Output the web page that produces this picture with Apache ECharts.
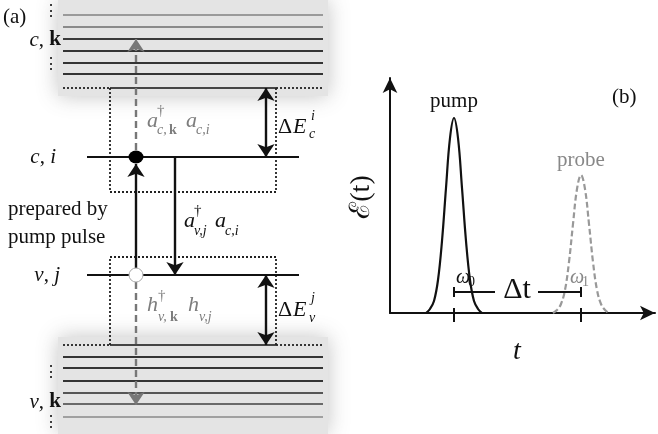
<!DOCTYPE html>
<html>
<head>
<meta charset="utf-8">
<script src="https://cdn.jsdelivr.net/npm/echarts@6/dist/echarts.min.js"></script>
<style>
  html, body { margin: 0; padding: 0; background: #fff; }
  #chart { width: 658px; height: 434px; }
</style>
</head>
<body>
<div id="chart"></div>
<script>
// (a) energy levels, y in drawing pixels
const upperLevels = [15, 27, 39, 51, 63, 74];
const lowerLevels = [357, 368, 381, 393, 404, 417];
const bandEdges = [88, 345];
const stateLevels = [157, 275]; // c,i  and  v,j

// (b) pulse envelopes
const pumpT = [36, 40, 44, 48, 52, 56, 60, 64, 68, 72, 76, 80, 84, 88, 92];
const pumpE = [0, 4, 12, 33, 72, 125, 175, 195, 175, 125, 72, 33, 12, 4, 0];
const probeT = [163, 167, 171, 175, 179, 183, 187, 191, 195, 199, 203, 207, 211, 215, 219];
const probeE = [0, 3, 9, 23, 51, 89, 124, 138, 124, 89, 51, 23, 9, 3, 0];
const pulseCenters = [64, 191];

const bandX = [63, 323];
const stateX = [87, 299];
const boxX = [110, 276];
const upX = 136, downX = 175, gapX = 266;

const chart = echarts.init(document.getElementById('chart'));

const serif = 'Liberation Serif';
const gray = '#7d7d7d';
// spec like 'italic bold 21'
function T(x, y, text, spec, fill, align, extra) {
    const parts = spec.split(' ');
    const size = +parts[parts.length - 1];
    return Object.assign({
        type: 'text', x: x, y: y, z: 100,
        style: {
            text: text, fontSize: size, fontFamily: serif,
            fontStyle: parts.indexOf('italic') >= 0 ? 'italic' : 'normal',
            fontWeight: parts.indexOf('bold') >= 0 ? 'bold' : 'normal',
            fill: fill || '#111',
            textAlign: align || 'left', align: align || 'left',
            textVerticalAlign: 'middle', verticalAlign: 'middle'
        }
    }, extra || {});
}
function seg(x1, y1, x2, y2) { return { coords: [[x1, y1], [x2, y2]] }; }
function lvl(y, color) { return Object.assign(seg(bandX[0], y, bandX[1], y), { lineStyle: { color: color } }); }

const upperColors = ['#9a9a9a', '#8a8a8a', '#3a3a3a', '#333', '#333', '#333'];
const lowerColors = ['#333', '#333', '#333', '#555', '#6a6a6a', '#a0a0a0'];

const stateLabel = (x, y, a, b) => ({
    type: 'text', x: x, y: y, z: 100,
    style: {
        text: '{i|' + a + '}{n|, }{' + (b === 'k' ? 'b' : 'i') + '|' + b + '}',
        align: 'right', textAlign: 'right', verticalAlign: 'middle', textVerticalAlign: 'middle',
        rich: {
            i: { fontFamily: serif, fontStyle: 'italic', fontSize: 21, fill: '#111' },
            n: { fontFamily: serif, fontSize: 21, fill: '#111' },
            b: { fontFamily: serif, fontWeight: 'bold', fontSize: 21, fill: '#111' }
        }
    }
});

const option = {
    animation: false,
    grid: [
        { left: 0, top: 0, width: 658, height: 434 },
        { left: 390, top: 78, width: 265, height: 235 }
    ],
    xAxis: [
        { gridIndex: 0, type: 'value', min: 0, max: 658, show: false },
        {
            gridIndex: 1, type: 'value', min: 0, max: 265,
            axisLine: { show: true, lineStyle: { color: '#111', width: 2 }, symbol: ['none', 'arrow'], symbolSize: [11, 15] },
            axisTick: { show: false }, axisLabel: { show: false }, splitLine: { show: false }
        }
    ],
    yAxis: [
        { gridIndex: 0, type: 'value', min: 0, max: 434, inverse: true, show: false },
        {
            gridIndex: 1, type: 'value', min: 0, max: 235,
            axisLine: { show: true, lineStyle: { color: '#111', width: 2 }, symbol: ['none', 'arrow'], symbolSize: [11, 15] },
            axisTick: { show: false }, axisLabel: { show: false }, splitLine: { show: false }
        }
    ],
    series: [
        // band shading
        {
            type: 'line', xAxisIndex: 0, yAxisIndex: 0, data: [], silent: true,
            markArea: {
                silent: true,
                itemStyle: { color: '#e4e4e4', shadowBlur: 20, shadowColor: 'rgba(190,190,190,0.9)' },
                data: [
                    [{ coord: [58, -10] }, { coord: [328, 96] }],
                    [{ coord: [58, 337] }, { coord: [328, 444] }]
                ]
            }
        },
        // band levels
        {
            type: 'lines', coordinateSystem: 'cartesian2d', xAxisIndex: 0, yAxisIndex: 0, z: 3,
            lineStyle: { width: 1.8, opacity: 1 },
            data: upperLevels.map((y, i) => lvl(y, upperColors[i]))
                .concat(lowerLevels.map((y, i) => lvl(y, lowerColors[i])))
                .concat(bandEdges.map(y => Object.assign(seg(boxX[0], y, boxX[1], y), { lineStyle: { color: '#444' } })))
        },
        // dotted band edges and boxes
        {
            type: 'lines', coordinateSystem: 'cartesian2d', xAxisIndex: 0, yAxisIndex: 0, z: 3, polyline: true,
            lineStyle: { color: '#222', width: 1.8, type: [2, 2], opacity: 1 },
            data: bandEdges.map(y => seg(bandX[0], y, boxX[0], y))
                .concat(bandEdges.map(y => seg(boxX[1], y, bandX[1], y)))
                .concat([
                    { coords: [[boxX[0], bandEdges[0]], [boxX[0], 192], [boxX[1], 192], [boxX[1], bandEdges[0]]] },
                    { coords: [[boxX[0], bandEdges[1]], [boxX[0], 257], [boxX[1], 257], [boxX[1], bandEdges[1]]] }
                ])
        },
        // discrete states
        {
            type: 'lines', coordinateSystem: 'cartesian2d', xAxisIndex: 0, yAxisIndex: 0, z: 4,
            lineStyle: { color: '#111', width: 2.2, opacity: 1 },
            data: stateLevels.map(y => seg(stateX[0], y, stateX[1], y))
        },
        // dashed gray transitions into the bands
        {
            type: 'lines', coordinateSystem: 'cartesian2d', xAxisIndex: 0, yAxisIndex: 0, z: 5,
            symbol: ['none', 'arrow'], symbolSize: 13,
            lineStyle: { color: '#777', width: 2.4, type: [7, 4], opacity: 1 },
            data: [seg(upX, stateLevels[0] - 7, upX, upperLevels[2]), seg(upX, stateLevels[1] + 7, upX, lowerLevels[4] + 1)]
        },
        // solid transitions
        {
            type: 'lines', coordinateSystem: 'cartesian2d', xAxisIndex: 0, yAxisIndex: 0, z: 5,
            symbol: ['none', 'arrow'], symbolSize: 13,
            lineStyle: { color: '#111', width: 2.4, opacity: 1 },
            data: [seg(upX, stateLevels[1], upX, stateLevels[0] + 7), seg(downX, stateLevels[0], downX, stateLevels[1])]
        },
        // energy gaps
        {
            type: 'lines', coordinateSystem: 'cartesian2d', xAxisIndex: 0, yAxisIndex: 0, z: 5,
            symbol: ['arrow', 'arrow'], symbolSize: 13,
            lineStyle: { color: '#111', width: 2.4, opacity: 1 },
            data: [seg(gapX, bandEdges[0], gapX, stateLevels[0]), seg(gapX, stateLevels[1], gapX, bandEdges[1])]
        },
        // electron and hole
        {
            type: 'scatter', xAxisIndex: 0, yAxisIndex: 0, z: 6, silent: true,
            data: [
                { value: [upX, stateLevels[0]], symbolSize: [15, 13], itemStyle: { color: '#000', opacity: 1 } },
                { value: [upX, stateLevels[1]], symbolSize: 14, itemStyle: { color: '#fff', borderColor: '#aaa', borderWidth: 1, opacity: 1 } }
            ]
        },
        // (b) pulses
        {
            type: 'line', xAxisIndex: 1, yAxisIndex: 1, smooth: 0.4, showSymbol: false, z: 4,
            lineStyle: { color: '#111', width: 2.2 },
            data: pumpT.map((t, i) => [t, pumpE[i]])
        },
        {
            type: 'line', xAxisIndex: 1, yAxisIndex: 1, smooth: 0.4, showSymbol: false, z: 4,
            lineStyle: { color: '#999', width: 2.2, type: [6, 3] },
            data: probeT.map((t, i) => [t, probeE[i]])
        },
        // ticks and delay bar
        {
            type: 'lines', coordinateSystem: 'cartesian2d', xAxisIndex: 1, yAxisIndex: 1, z: 5, clip: false,
            lineStyle: { color: '#111', width: 2, opacity: 1 },
            data: pulseCenters.map(t => seg(t, -9, t, 5))
                .concat(pulseCenters.map(t => seg(t, 16, t, 26)))
                .concat([seg(pulseCenters[0], 21, 105, 21), seg(148, 21, pulseCenters[1], 21)])
        }
    ],
    graphic: [
        T(3, 17, '(a)', '21'),
        T(43, 12, '⋮', '16'), T(43, 65, '⋮', '16'),
        T(43, 373, '⋮', '16'), T(43, 423, '⋮', '16'),
        stateLabel(61, 40, 'c', 'k'),
        stateLabel(61, 402, 'v', 'k'),
        stateLabel(56, 157, 'c', 'i'),
        stateLabel(60, 275, 'v', 'j'),
        T(8, 209, 'prepared by', '21'),
        T(8, 237, 'pump pulse', '21'),
        // a†_{c,k} a_{c,i}
        T(147, 121, 'a', 'italic 22', gray), T(157, 111, '†', '15', gray),
        T(157, 130, 'c,', 'italic 14', gray), T(169, 130, 'k', 'bold 14', gray),
        T(186, 121, 'a', 'italic 22', gray), T(196, 130, 'c,i', 'italic 14', gray),
        // a†_{v,j} a_{c,i}
        T(184, 221, 'a', 'italic 22'), T(194, 211, '†', '15'),
        T(194, 231, 'v,j', 'italic 14'),
        T(215, 221, 'a', 'italic 22'), T(225, 231, 'c,i', 'italic 14'),
        // h†_{v,k} h_{v,j}
        T(147, 305, 'h', 'italic 22', gray), T(158, 296, '†', '15', gray),
        T(158, 317, 'v,', 'italic 14', gray), T(170, 317, 'k', 'bold 14', gray),
        T(188, 305, 'h', 'italic 22', gray), T(199, 317, 'v,j', 'italic 14', gray),
        // gaps
        T(278, 127, 'Δ', '22'), T(293, 127, 'E', 'italic 22'),
        T(311, 116, 'i', 'italic 14'), T(309, 134, 'c', 'italic 14'),
        T(278, 310, 'Δ', '22'), T(293, 310, 'E', 'italic 22'),
        T(311, 298, 'j', 'italic 14'), T(309, 318, 'v', 'italic 14'),
        // (b)
        T(454, 101, 'pump', '21', '#111', 'center'),
        T(581, 160, 'probe', '21', '#888', 'center'),
        T(612, 97, '(b)', '21'),
        T(456, 278, 'ω', 'italic 20'), T(468, 282, '0', '14'),
        T(570, 278, 'ω', 'italic 20', '#888'), T(582, 282, '1', '14', '#888'),
        T(517, 290, 'Δt', '30', '#111', 'center'),
        T(517, 352, 't', 'italic 28', '#111', 'center'),
        T(362, 197, 'ℰ(t)', '28', '#111', 'center', { rotation: Math.PI / 2 })
    ]
};

chart.setOption(option);
</script>
</body>
</html>
